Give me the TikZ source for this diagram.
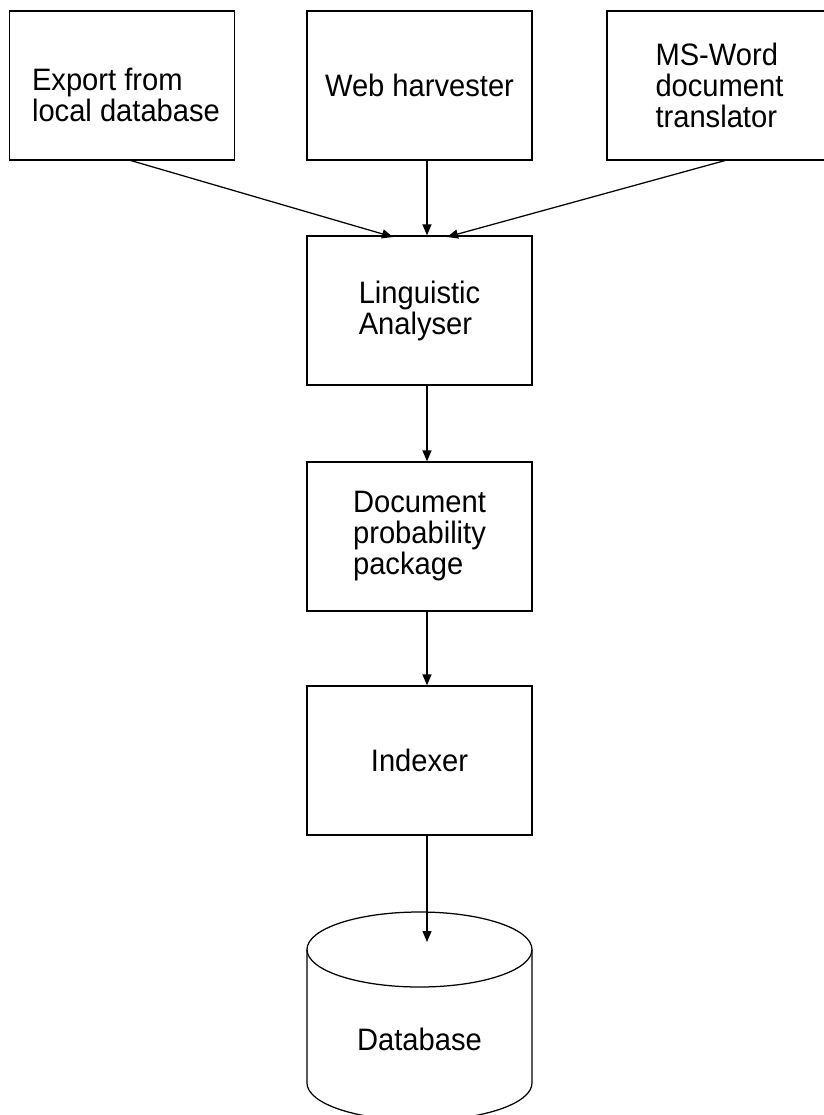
\documentclass[tikz,border=0pt]{standalone}
\usepackage{fontspec}
\setmainfont[FakeStretch=0.94]{Liberation Sans}
\usetikzlibrary{arrows.meta}

\begin{document}
\begin{tikzpicture}[x=1pt, y=-1pt, line width=1.25pt, line join=miter,
  stage/.style={draw, minimum width=225pt, minimum height=149pt, align=left,
    font=\fontsize{31}{31}\selectfont},
  words/.style={font=\fontsize{31}{31}\selectfont, align=left},
  flow/.style={-{Triangle[length=11pt,width=9pt]}}]

% page frame (same size as the scan)
\useasboundingbox (0,0) rectangle (823,1115);

\def\W{112.5} % half width of the database drum
\def\E{37.5}  % half height of its ellipses

% top row: the three sources
\node[stage, label={[words, xshift=4pt, yshift=-9pt]center:Export from\\local database}]
  (export) at (122,85.5) {};
\node[stage] (web) at (419.5,85.5) {Web harvester};
\node[stage] (msword) at (719.5,85.5) {MS-Word\\document\\translator};

% middle column
\node[stage] (ling) at (419.5,310.5) {Linguistic\\Analyser};
\node[stage] (prob) at (419.5,536.5) {Document\\probability\\package};
\node[stage] (index) at (419.5,760.5) {Indexer};

% the arrows run a little right of the column centre
\coordinate (spine) at (427,0);
\coordinate (inL) at (393,237);
\coordinate (inR) at (447,237);
\coordinate (outL) at (129,160);
\coordinate (outR) at (727,160);

% database drum
\draw (419.5,949.5) ellipse [x radius=\W, y radius=\E];
\draw (419.5-\W,949.5) -- (419.5-\W,1083)
  arc [start angle=180, end angle=0, x radius=\W, y radius=\E]
  -- (419.5+\W,949.5);
\node[words] (db) at (419.5,1039) {Database};
\coordinate (dbtop) at (427,942);

% connectors
\draw[flow] (outL) -- (inL);
\draw[flow] (web.south -| spine) -- (ling.north -| spine);
\draw[flow] (outR) -- (inR);
\draw[flow] (ling.south -| spine) -- (prob.north -| spine);
\draw[flow] (prob.south -| spine) -- (index.north -| spine);
\draw[flow] (index.south -| spine) -- (dbtop);

\end{tikzpicture}
\end{document}
